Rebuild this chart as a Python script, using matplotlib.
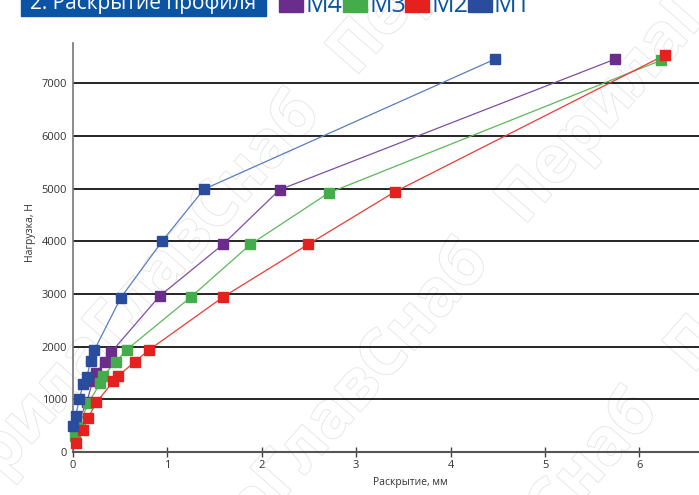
import numpy as np
import matplotlib
matplotlib.use("Agg")
import matplotlib.pyplot as plt
from matplotlib.patches import Rectangle
import matplotlib.patheffects as pe

plt.rcParams['font.family'] = ['Open Sans', 'DejaVu Sans']

# series: displacement (mm) vs load (N)
m4_x = [0.04, 0.15, 0.21, 0.25, 0.34, 0.41, 0.92, 1.59, 2.19, 5.74]
m4_y = [480, 950, 1340, 1500, 1710, 1900, 2960, 3940, 4980, 7460]
m3_x = [0.02, 0.06, 0.165, 0.29, 0.32, 0.455, 0.57, 1.25, 1.88, 2.71, 6.23]
m3_y = [300, 470, 930, 1300, 1440, 1710, 1940, 2940, 3940, 4920, 7440]
m2_x = [0.04, 0.11, 0.16, 0.25, 0.43, 0.48, 0.655, 0.81, 1.59, 2.49, 3.41, 6.27]
m2_y = [170, 410, 640, 940, 1340, 1440, 1710, 1940, 2940, 3940, 4940, 7540]
m1_x = [0.0, 0.03, 0.07, 0.11, 0.15, 0.19, 0.23, 0.51, 0.95, 1.39, 4.47]
m1_y = [490, 680, 1000, 1290, 1430, 1720, 1940, 2930, 4010, 4990, 7460]

labels = ['М4', 'М3', 'М2', 'М1']
marker_colors = ['#6a2d8c', '#44ac4a', '#e5211f', '#2a4c9c']
line_colors = ['#7f4ea3', '#5cb85c', '#ec3b36', '#5a7cc0']
y_ticks = [0, 1000, 2000, 3000, 4000, 5000, 6000, 7000]
x_ticks = [0, 1, 2, 3, 4, 5, 6]

fig = plt.figure(figsize=(6.99, 4.95), dpi=100)

# faint watermark behind the chart
wm = 'ПерилаГлавСнаб   ПерилаГлавСнаб   ПерилаГлавСнаб'
ang = np.deg2rad(48.6)
d = np.array([np.cos(ang), np.sin(ang)])
nrm = np.array([-np.sin(ang), np.cos(ang)])
base = np.array([300.0, 15.0])
for k in [-2, -1, 0, 1]:
    p = base + k * 225 * nrm - 900 * d
    fig.text(p[0] / 699, p[1] / 495, wm, fontsize=46, fontweight='bold',
             color='white', rotation=48.6, rotation_mode='anchor',
             ha='left', va='baseline', zorder=0,
             path_effects=[pe.withStroke(linewidth=1.3, foreground='#e6e6e6')])

ax = fig.add_axes([0.104, 0.087, 0.896, 0.826])
ax.set_facecolor('none')
ax.set_zorder(2)

for xs, ys, lab, mc, lc in zip([m4_x, m3_x, m2_x, m1_x], [m4_y, m3_y, m2_y, m1_y],
                               labels, marker_colors, line_colors):
    ax.plot(xs, ys, color=lc, lw=0.9, zorder=3)
    ax.plot(xs, ys, ls='none', marker='s', ms=7.5, mfc=mc, mec=mc,
            zorder=4, clip_on=False)

ax.set_xlim(0, 6.63)
ax.set_ylim(0, 7766)
ax.set_yticks(y_ticks)
ax.set_xticks(x_ticks)
ax.yaxis.grid(True, color='black', lw=1.2)
ax.set_axisbelow(True)
for s in ['top', 'right']:
    ax.spines[s].set_visible(False)
ax.spines['left'].set_color('#777777')
ax.spines['left'].set_linewidth(1.2)
ax.spines['bottom'].set_color('#555555')
ax.spines['bottom'].set_linewidth(1.5)
ax.tick_params(axis='y', length=0, pad=4, labelsize=8, labelcolor='#333333')
ax.tick_params(axis='x', direction='inout', length=7, width=1, color='#444444',
               pad=2, labelsize=8, labelcolor='#333333')

fig.text(410 / 699, 1 - 483 / 495, 'Раскрытие, мм', fontsize=7.5, color='#333333',
         ha='center', va='center', zorder=3)
fig.text(30 / 699, 1 - 233 / 495, 'Нагрузка, Н', fontsize=7.5, color='#333333',
         ha='center', va='center', rotation=90, zorder=3)

# header bar and legend, cut off at the top edge
fig.patches.append(Rectangle((21 / 699, 1 - 16 / 495), 245 / 699, 30 / 495,
                             transform=fig.transFigure, color='#0b54a4', zorder=5))
fig.text(143 / 699, 1 - 9 / 495, '2. Раскрытие профиля', fontsize=15, color='white',
         ha='center', va='baseline', zorder=6)
legend_x = [279, 343, 405, 468]
for lx, lab, mc in zip(legend_x, labels, marker_colors):
    fig.patches.append(Rectangle((lx / 699, 1 - 12 / 495), 24 / 699, 30 / 495,
                                 transform=fig.transFigure, color=mc, zorder=5))
    fig.text((lx + 26) / 699, 1 - 12 / 495, lab, fontsize=18, color='#0b54a4',
             ha='left', va='baseline', zorder=6)

fig.savefig('out.png', dpi=100)
